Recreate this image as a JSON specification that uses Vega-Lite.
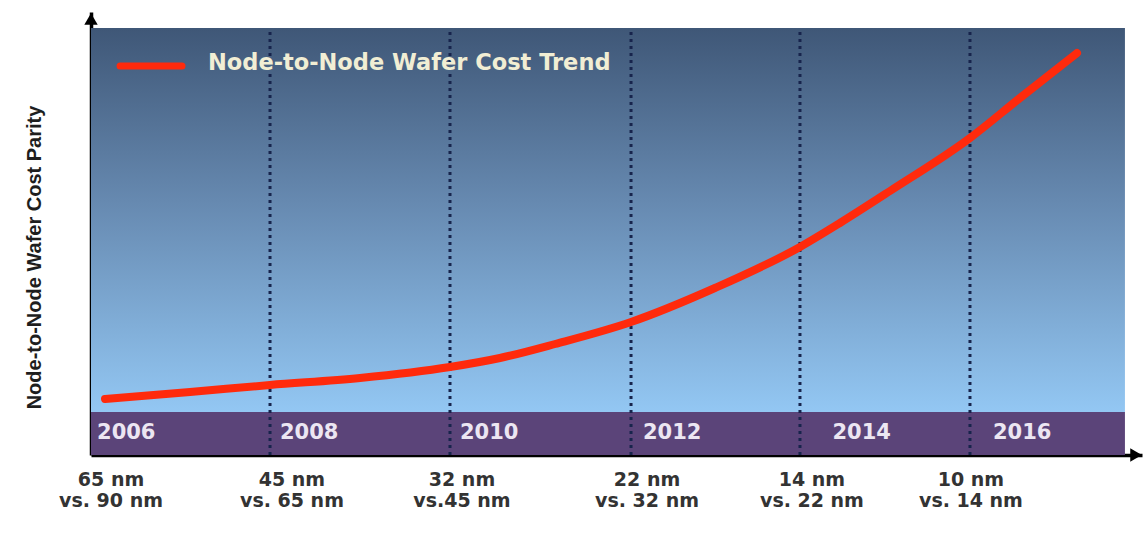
{
  "$schema": "https://vega.github.io/schema/vega-lite/v6.json",
  "width": 1051,
  "height": 443,
  "autosize": {"type": "none"},
  "padding": {"left": 91, "top": 12, "right": 4, "bottom": 78},
  "background": "#ffffff",
  "config": {
    "view": {"stroke": null},
    "axis": {"labels": false, "ticks": false, "grid": false, "domainColor": "#000000", "domainWidth": 3.5, "domainCap": "butt"}
  },
  "datasets": {
    "panel": [{"x1": 2005.906, "x2": 2017.723, "y1": 43, "y2": 427}],
    "band": [{"x1": 2005.906, "x2": 2017.723, "y1": 0, "y2": 43}],
    "curve": [
      {"year": 2006.066, "parity": 56},
      {"year": 2007.038, "parity": 63},
      {"year": 2007.952, "parity": 70},
      {"year": 2008.981, "parity": 77},
      {"year": 2010.009, "parity": 88},
      {"year": 2010.58, "parity": 97},
      {"year": 2011.21, "parity": 111},
      {"year": 2012.078, "parity": 133},
      {"year": 2013.037, "parity": 167},
      {"year": 2014.009, "parity": 208},
      {"year": 2014.466, "parity": 232},
      {"year": 2015.038, "parity": 264},
      {"year": 2015.952, "parity": 317},
      {"year": 2016.523, "parity": 357},
      {"year": 2017.175, "parity": 402}
    ],
    "boundaries": [
      {"year": 2007.952},
      {"year": 2010.009},
      {"year": 2012.078},
      {"year": 2014.009},
      {"year": 2015.952}
    ],
    "years": [
      {"pos": 2005.975, "label": "2006"},
      {"pos": 2008.066, "label": "2008"},
      {"pos": 2010.123, "label": "2010"},
      {"pos": 2012.215, "label": "2012"},
      {"pos": 2014.38, "label": "2014"},
      {"pos": 2016.215, "label": "2016"}
    ],
    "nodes": [
      {"pos": 2006.135, "label": "65 nm\nvs. 90 nm"},
      {"pos": 2008.203, "label": "45 nm\nvs. 65 nm"},
      {"pos": 2010.146, "label": "32 nm\nvs.45 nm"},
      {"pos": 2012.261, "label": "22 nm\nvs. 32 nm"},
      {"pos": 2014.146, "label": "14 nm\nvs. 22 nm"},
      {"pos": 2015.963, "label": "10 nm\nvs. 14 nm"}
    ],
    "legend": [{"x1": 2006.238, "x2": 2006.946, "y": 389, "tx": 2007.243, "ty": 392, "label": "Node-to-Node Wafer Cost Trend"}],
    "arrows": [
      {"x": 2005.906, "y": 436, "shape": "triangle-up"},
      {"x": 2017.85, "y": 0, "shape": "triangle-right"}
    ]
  },
  "layer": [
    {
      "data": {"name": "panel"},
      "mark": {
        "type": "rect",
        "color": {
          "gradient": "linear", "x1": 0, "y1": 0, "x2": 0, "y2": 1,
          "stops": [
            {"offset": 0, "color": "#3f5777"},
            {"offset": 0.45, "color": "#6689b0"},
            {"offset": 1, "color": "#93c7f3"}
          ]
        }
      },
      "encoding": {
        "x": {
          "field": "x1", "type": "quantitative",
          "scale": {"domain": [2005.906, 2017.918], "nice": false, "zero": false},
          "axis": {"title": null}
        },
        "x2": {"field": "x2"},
        "y": {
          "field": "y1", "type": "quantitative",
          "scale": {"domain": [0, 443], "nice": false, "zero": false},
          "axis": {
            "title": "Node-to-Node Wafer Cost Parity",
            "titleFont": "Liberation Sans", "titleFontSize": 20, "titleFontWeight": "bold",
            "titleColor": "#1e1e1e", "titleX": -57, "titleY": 245, "titleAngle": -90,
            "titleAlign": "center", "titleBaseline": "middle"
          }
        },
        "y2": {"field": "y2"}
      }
    },
    {
      "data": {"name": "band"},
      "mark": {"type": "rect", "color": "#5b4479"},
      "encoding": {
        "x": {"field": "x1", "type": "quantitative"},
        "x2": {"field": "x2"},
        "y": {"field": "y1", "type": "quantitative"},
        "y2": {"field": "y2"}
      }
    },
    {
      "data": {"name": "boundaries"},
      "mark": {"type": "rule", "color": "#17244c", "strokeWidth": 3, "strokeDash": [3, 4]},
      "encoding": {
        "x": {"field": "year", "type": "quantitative"},
        "y": {"datum": 0, "type": "quantitative"},
        "y2": {"datum": 427}
      }
    },
    {
      "data": {"name": "years"},
      "mark": {"type": "text", "align": "left", "baseline": "middle", "font": "DejaVu Sans", "fontSize": 21, "fontWeight": "bold", "color": "#ece6f2"},
      "encoding": {
        "x": {"field": "pos", "type": "quantitative"},
        "y": {"datum": 22, "type": "quantitative"},
        "text": {"field": "label"}
      }
    },
    {
      "data": {"name": "curve"},
      "mark": {"type": "line", "interpolate": "monotone", "color": "#ff2a0c", "strokeWidth": 8, "strokeCap": "round", "strokeJoin": "round"},
      "encoding": {
        "x": {"field": "year", "type": "quantitative"},
        "y": {"field": "parity", "type": "quantitative"}
      }
    },
    {
      "data": {"name": "legend"},
      "mark": {"type": "rule", "color": "#ff2a0c", "strokeWidth": 7, "strokeCap": "round"},
      "encoding": {
        "x": {"field": "x1", "type": "quantitative"},
        "x2": {"field": "x2"},
        "y": {"field": "y", "type": "quantitative"}
      }
    },
    {
      "data": {"name": "legend"},
      "mark": {"type": "text", "align": "left", "baseline": "middle", "font": "DejaVu Sans", "fontSize": 22.5, "fontWeight": "bold", "color": "#f1eed4"},
      "encoding": {
        "x": {"field": "tx", "type": "quantitative"},
        "y": {"field": "ty", "type": "quantitative"},
        "text": {"field": "label"}
      }
    },
    {
      "data": {"name": "nodes"},
      "mark": {"type": "text", "align": "center", "baseline": "middle", "lineBreak": "\n", "lineHeight": 21, "font": "DejaVu Sans", "fontSize": 19, "fontWeight": "bold", "color": "#333333"},
      "encoding": {
        "x": {"field": "pos", "type": "quantitative"},
        "y": {"datum": -25, "type": "quantitative"},
        "text": {"field": "label"}
      }
    },
    {
      "data": {"name": "arrows"},
      "mark": {"type": "point", "filled": true, "color": "#000000", "opacity": 1, "size": 180},
      "encoding": {
        "x": {"field": "x", "type": "quantitative"},
        "y": {"field": "y", "type": "quantitative"},
        "shape": {"field": "shape", "type": "nominal", "scale": null, "legend": null}
      }
    }
  ]
}
